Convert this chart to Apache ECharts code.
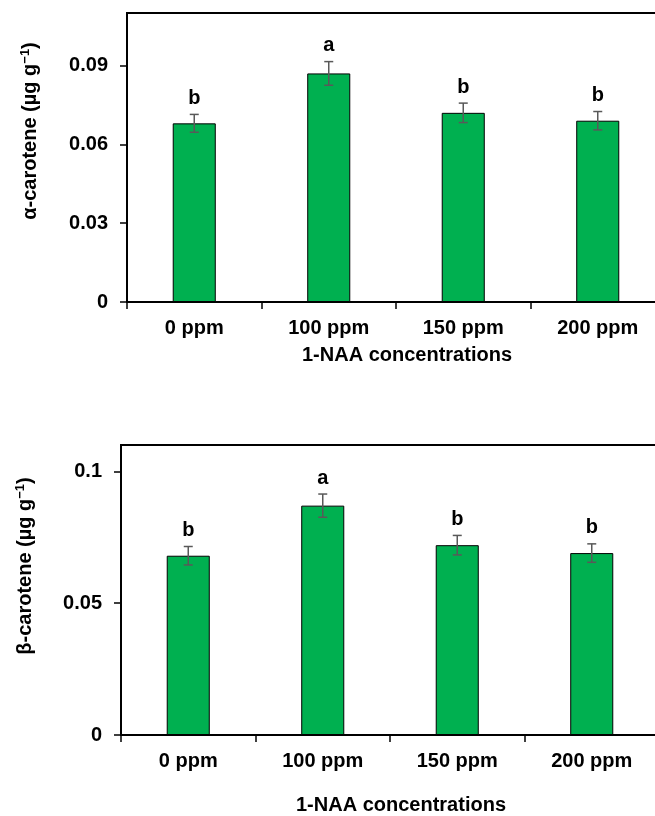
<!DOCTYPE html>
<html>
<head>
<meta charset="utf-8">
<script src="https://cdn.jsdelivr.net/npm/echarts@6/dist/echarts.min.js"></script>
<style>
  html, body { margin: 0; padding: 0; background: #fff; }
  #main { width: 655px; height: 816px; }
</style>
</head>
<body>
<div id="main"></div>
<script>
  // categories and values
  var categories = ['0 ppm', '100 ppm', '150 ppm', '200 ppm'];

  var alphaMean = [0.068, 0.087, 0.072, 0.069];
  var alphaErr = [0.0034, 0.0045, 0.0037, 0.0035];
  var alphaLetters = ['b', 'a', 'b', 'b'];
  var alphaTicks = [0, 0.03, 0.06, 0.09];

  var betaMean = [0.068, 0.087, 0.072, 0.069];
  var betaErr = [0.0035, 0.0044, 0.0037, 0.0035];
  var betaLetters = ['b', 'a', 'b', 'b'];
  var betaTicks = [0, 0.05, 0.1];

  var FONT = '"Liberation Sans", Arial, sans-serif';
  var FS = 20;
  var green = '#00B050';

  var myChart = echarts.init(document.getElementById('main'));

  // error bar + significance letter
  function errorItem(params, api) {
    var x = api.value(0);
    var lo = api.coord([x, api.value(1)]);
    var hi = api.coord([x, api.value(2)]);
    var cap = 4.5;
    var line = { stroke: '#595959', lineWidth: 1.5 };
    return {
      type: 'group',
      children: [
        { type: 'line', shape: { x1: hi[0], y1: hi[1], x2: lo[0], y2: lo[1] }, style: line },
        { type: 'line', shape: { x1: hi[0] - cap, y1: hi[1], x2: hi[0] + cap, y2: hi[1] }, style: line },
        { type: 'line', shape: { x1: lo[0] - cap, y1: lo[1], x2: lo[0] + cap, y2: lo[1] }, style: line },
        {
          type: 'text',
          x: hi[0], y: hi[1] - 6,
          style: {
            text: api.value(3), fill: '#000',
            font: 'bold ' + FS + 'px ' + FONT,
            align: 'center', verticalAlign: 'bottom'
          }
        }
      ]
    };
  }

  function errData(mean, err, letters) {
    return mean.map(function (m, i) {
      return [i, m - err[i], m + err[i], letters[i]];
    });
  }

  function xAxisCfg(gridIndex) {
    return {
      type: 'category',
      gridIndex: gridIndex,
      data: categories,
      boundaryGap: true,
      axisLine: { lineStyle: { color: '#000', width: 2 } },
      axisTick: { show: true, length: 7, alignWithLabel: false, lineStyle: { color: '#000', width: 1.5 } },
      axisLabel: { color: '#000', fontSize: FS, fontWeight: 'bold', fontFamily: FONT, margin: 16 }
    };
  }

  function yAxisCfg(gridIndex, max, ticks) {
    return {
      type: 'value',
      gridIndex: gridIndex,
      min: 0,
      max: max,
      axisLine: { show: true, lineStyle: { color: '#000', width: 2 } },
      axisTick: { show: true, length: 7, customValues: ticks, lineStyle: { color: '#000', width: 1.5 } },
      axisLabel: {
        customValues: ticks,
        color: '#000', fontSize: FS, fontWeight: 'bold', fontFamily: FONT, margin: 19,
        formatter: function (v) { return String(v); }
      },
      splitLine: { show: false }
    };
  }

  function yTitle(x, y, main) {
    return {
      type: 'text',
      x: x, y: y,
      rotation: Math.PI / 2,
      style: {
        text: '{n|' + main + ' (µg g}{s|−1}{n|)}',
        align: 'center', verticalAlign: 'middle',
        rich: {
          n: { font: 'bold ' + FS + 'px ' + FONT, fill: '#000' },
          s: { font: 'bold 13px ' + FONT, fill: '#000', verticalAlign: 'top', padding: [0, 0, 10, 0] }
        }
      }
    };
  }

  function xTitle(x, y) {
    return {
      type: 'text',
      x: x, y: y,
      style: {
        text: '1-NAA concentrations',
        font: 'bold ' + FS + 'px ' + FONT, fill: '#000',
        align: 'center', verticalAlign: 'middle'
      }
    };
  }

  var option = {
    animation: false,
    backgroundColor: '#fff',
    grid: [
      { left: 127, top: 13, width: 538, height: 289, outerBoundsMode: 'none', show: true, borderColor: '#000', borderWidth: 2, backgroundColor: 'transparent' },
      { left: 121, top: 445, width: 538, height: 290, outerBoundsMode: 'none', show: true, borderColor: '#000', borderWidth: 2, backgroundColor: 'transparent' }
    ],
    xAxis: [xAxisCfg(0), xAxisCfg(1)],
    yAxis: [yAxisCfg(0, 0.11, alphaTicks), yAxisCfg(1, 0.11, betaTicks)],
    graphic: [
      yTitle(30, 131, 'α-carotene'),
      xTitle(407, 355),
      yTitle(25, 566, 'β-carotene'),
      xTitle(401, 805)
    ],
    series: [
      {
        type: 'bar', xAxisIndex: 0, yAxisIndex: 0,
        barWidth: '32%',
        itemStyle: { color: green, borderColor: '#000', borderWidth: 1 },
        data: alphaMean
      },
      {
        type: 'custom', xAxisIndex: 0, yAxisIndex: 0,
        renderItem: errorItem,
        encode: { x: 0, y: [1, 2] },
        data: errData(alphaMean, alphaErr, alphaLetters),
        z: 10
      },
      {
        type: 'bar', xAxisIndex: 1, yAxisIndex: 1,
        barWidth: '32%',
        itemStyle: { color: green, borderColor: '#000', borderWidth: 1 },
        data: betaMean
      },
      {
        type: 'custom', xAxisIndex: 1, yAxisIndex: 1,
        renderItem: errorItem,
        encode: { x: 0, y: [1, 2] },
        data: errData(betaMean, betaErr, betaLetters),
        z: 10
      }
    ]
  };

  myChart.setOption(option);
</script>
</body>
</html>
